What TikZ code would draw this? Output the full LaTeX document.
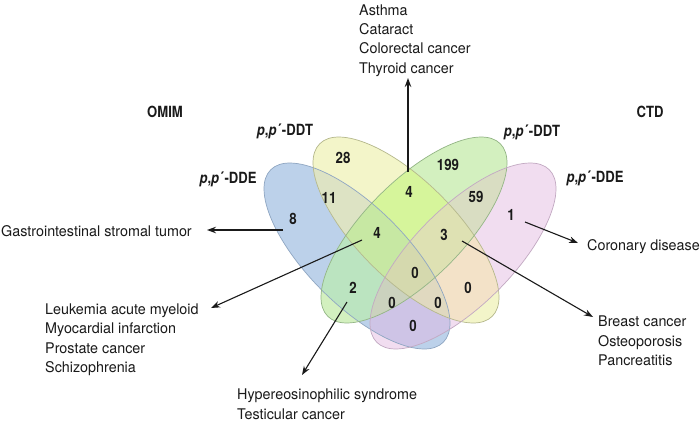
\documentclass[tikz,border=0pt]{standalone}
\usepackage{fontspec}
\setmainfont{TeX Gyre Heros}
\newfontfamily\numfont[FakeStretch=0.85]{TeX Gyre Heros}
\newfontfamily\disfont[FakeStretch=0.975]{TeX Gyre Heros}
\usetikzlibrary{arrows.meta}
\definecolor{rB}{HTML}{BCD1EA}
\definecolor{rY}{HTML}{F3F5C9}
\definecolor{rG}{HTML}{D3F0BF}
\definecolor{rP}{HTML}{F1DDF0}
\definecolor{rBY}{HTML}{DDE3C4}
\definecolor{rYG}{HTML}{D6F59B}
\definecolor{rBYG}{HTML}{C7E8A3}
\definecolor{rBG}{HTML}{BBE4C0}
\definecolor{rGP}{HTML}{D9DDC2}
\definecolor{rYGP}{HTML}{DEE1B3}
\definecolor{rBYGP}{HTML}{D5D9AE}
\definecolor{rYP}{HTML}{F3E2C8}
\definecolor{rBP}{HTML}{CEC4E6}
\definecolor{rBGP}{HTML}{CBD2BE}
\definecolor{rBYP}{HTML}{E0D9C0}
\definecolor{sB}{HTML}{8FA6C2}
\definecolor{sY}{HTML}{B5B88C}
\definecolor{sG}{HTML}{93B585}
\definecolor{sP}{HTML}{C2A9C2}
\definecolor{ink}{HTML}{1A1A1A}
\newcommand\EB{(357,256) ellipse [x radius=122, y radius=49, rotate=-45]}
\newcommand\EY{(406,230) ellipse [x radius=122, y radius=49, rotate=-45]}
\newcommand\EG{(414,230) ellipse [x radius=122, y radius=49, rotate=45]}
\newcommand\EP{(463,256) ellipse [x radius=122, y radius=49, rotate=45]}
\newcommand\VinB{\clip \EB;}
\newcommand\VinY{\clip \EY;}
\newcommand\VinG{\clip \EG;}
\newcommand\VinP{\clip \EP;}
\newcommand\VoutB{\clip (-3000,-3000) rectangle (4000,4000) \EB;}
\newcommand\VoutY{\clip (-3000,-3000) rectangle (4000,4000) \EY;}
\newcommand\VoutG{\clip (-3000,-3000) rectangle (4000,4000) \EG;}
\newcommand\VoutP{\clip (-3000,-3000) rectangle (4000,4000) \EP;}
\newcommand\Vreg[2]{\begin{scope}[even odd rule]#2\fill[#1] (0,0) rectangle (700,423);\end{scope}}
\newcommand\ppp{\textit{p},\textit{p}\kern0.5pt´\kern0.5pt-}
\begin{document}
\begin{tikzpicture}[x=1pt,y=-1pt,
  num/.style={font=\numfont\bfseries\fontsize{15.6}{18}\selectfont, inner sep=0pt, text=ink},
  setlabel/.style={font=\numfont\bfseries\fontsize{15.4}{18}\selectfont, inner sep=0pt, text=ink},
  disease/.style={font=\disfont\fontsize{14.7}{19.3}\selectfont, inner sep=0pt, align=left, anchor=base west, text=ink},
  outl/.style={line width=0.7pt},
  conn/.style={draw=ink, line width=1.1pt, -{Stealth[length=9pt,width=6.5pt]}}]
\useasboundingbox (0,0) rectangle (700,423);
\fill[white] (0,0) rectangle (700,423);
% region fills
\Vreg{rB}{\VinB\VoutY\VoutG\VoutP}
\Vreg{rY}{\VinY\VoutB\VoutG\VoutP}
\Vreg{rG}{\VinG\VoutB\VoutY\VoutP}
\Vreg{rP}{\VinP\VoutB\VoutY\VoutG}
\Vreg{rBY}{\VinB\VinY\VoutG\VoutP}
\Vreg{rYG}{\VinY\VinG\VoutB\VoutP}
\Vreg{rBYG}{\VinB\VinY\VinG\VoutP}
\Vreg{rBG}{\VinB\VinG\VoutY\VoutP}
\Vreg{rGP}{\VinG\VinP\VoutB\VoutY}
\Vreg{rYGP}{\VinY\VinG\VinP\VoutB}
\Vreg{rBYGP}{\VinB\VinY\VinG\VinP}
\Vreg{rYP}{\VinY\VinP\VoutB\VoutG}
\Vreg{rBP}{\VinB\VinP\VoutY\VoutG}
\Vreg{rBGP}{\VinB\VinG\VinP\VoutY}
\Vreg{rBYP}{\VinB\VinY\VinP\VoutG}
% outlines
\draw[outl,sB] \EB;
\draw[outl,sY] \EY;
\draw[outl,sG] \EG;
\draw[outl,sP] \EP;
% set labels
\node[setlabel] (omim) at (165,112) {OMIM};
\node[setlabel] (ctd) at (650,112) {CTD};
\node[setlabel] (lddt) at (285,131) {\ppp DDT};
\node[setlabel] (ldde) at (228,179) {\ppp DDE};
\node[setlabel] (rddt) at (532,132) {\ppp DDT};
\node[setlabel] (rdde) at (595,178) {\ppp DDE};
% counts
\node[num] (n8) at (293,219) {8};
\node[num] (n11) at (329,198) {11};
\node[num] (n28) at (343,158) {28};
\node[num] (n4t) at (409,192) {4};
\node[num] (n199) at (448,165) {199};
\node[num] (n59) at (476,197) {59};
\node[num] (n1) at (511,215) {1};
\node[num] (n4l) at (377,233) {4};
\node[num] (n3) at (444,235) {3};
\node[num] (n0c) at (415,273) {0};
\node[num] (n2) at (353,288) {2};
\node[num] (n0l) at (392,303) {0};
\node[num] (n0r) at (438,303) {0};
\node[num] (n0yp) at (468,288) {0};
\node[num] (n0b) at (413,326) {0};
% disease lists (anchored at the baseline of their last line)
\node[disease] (top) at (359,73) {Asthma\\Cataract\\Colorectal cancer\\Thyroid cancer};
\node[disease] (gist) at (1,236) {Gastrointestinal stromal tumor};
\node[disease] (coro) at (587,250) {Coronary disease};
\node[disease] (leuk) at (45,372.3) {Leukemia acute myeloid\\Myocardial infarction\\Prostate cancer\\Schizophrenia};
\node[disease] (hyper) at (237,419) {Hypereosinophilic syndrome\\Testicular cancer};
\node[disease] (breast) at (598,365.3) {Breast cancer\\Osteoporosis\\Pancreatitis};
% connectors
\coordinate (s4t) at (408,172); \coordinate (e4t) at (408,78);
\coordinate (s8) at (283,230);  \coordinate (e8) at (207,230);
\coordinate (s1) at (525,222);  \coordinate (e1) at (578,243);
\coordinate (s4l) at (362,240); \coordinate (e4l) at (211,308);
\coordinate (s2) at (347,302);  \coordinate (e2) at (302,375);
\coordinate (s3) at (462,241);  \coordinate (e3) at (593,317);
\draw[conn] (s4t) -- (e4t);
\draw[conn] (s8) -- (e8);
\draw[conn] (s1) -- (e1);
\draw[conn] (s4l) -- (e4l);
\draw[conn] (s2) -- (e2);
\draw[conn] (s3) -- (e3);
\end{tikzpicture}
\end{document}
